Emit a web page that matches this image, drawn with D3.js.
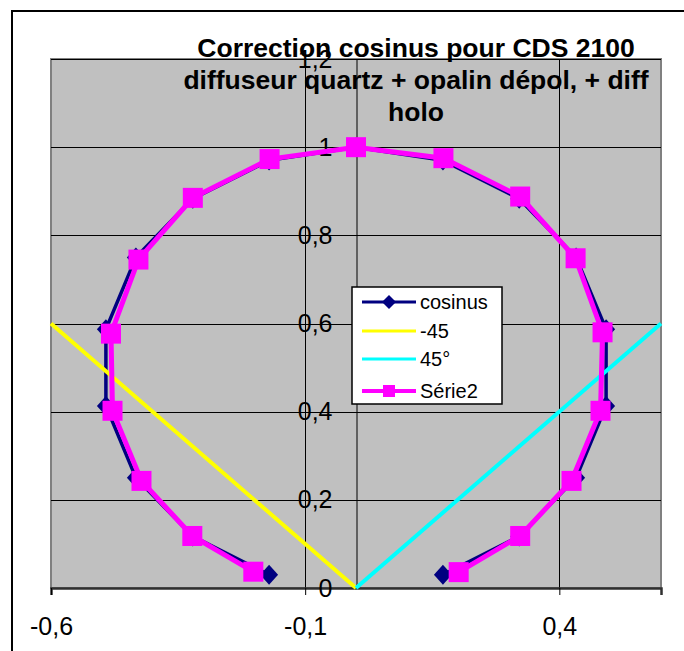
<!DOCTYPE html>
<html>
<head>
<meta charset="utf-8">
<script src="https://cdn.jsdelivr.net/npm/d3@7/dist/d3.min.js"></script>
<style>
  body { margin: 0; background: #fff; }
  svg text { font-family: Arial, "Liberation Sans", sans-serif; }
</style>
</head>
<body>
<svg id="chart" width="684" height="651"></svg>
<script>
// Chart data
const titleLines = ['Correction cosinus pour CDS 2100', 'diffuseur quartz + opalin dépol, + diff', 'holo'];

const cosinusX = [-0.171, -0.321, -0.433, -0.492, -0.492, -0.433, -0.321, -0.171, 0,
                  0.171, 0.321, 0.433, 0.492, 0.492, 0.433, 0.321, 0.171];
const cosinusY = [0.030, 0.117, 0.250, 0.413, 0.587, 0.750, 0.883, 0.970, 1.000,
                  0.970, 0.883, 0.750, 0.587, 0.413, 0.250, 0.117, 0.030];

const serie2X = [-0.202, -0.322, -0.422, -0.479, -0.482, -0.428, -0.321, -0.170, 0,
                 0.172, 0.323, 0.432, 0.485, 0.481, 0.424, 0.323, 0.202];
const serie2Y = [0.037, 0.118, 0.243, 0.402, 0.577, 0.745, 0.885, 0.973, 1.000,
                 0.975, 0.888, 0.748, 0.580, 0.402, 0.243, 0.118, 0.036];

const minus45X = [-0.6, 0];
const minus45Y = [0.6, 0];
const plus45X = [0, 0.6];
const plus45Y = [0, 0.6];

const xTicks = [-0.6, -0.1, 0.4];
const yTicks = [0, 0.2, 0.4, 0.6, 0.8, 1, 1.2];

const series = [
    { name: 'cosinus', xs: cosinusX, ys: cosinusY, color: '#000080', width: 3.5, marker: 'diamond' },
    { name: '-45', xs: minus45X, ys: minus45Y, color: '#FFFF00', width: 4, marker: null },
    { name: '45°', xs: plus45X, ys: plus45Y, color: '#00FFFF', width: 4, marker: null },
    { name: 'Série2', xs: serie2X, ys: serie2Y, color: '#FF00FF', width: 5, marker: 'square' }
];

const fmt = v => String(Math.round(v * 10) / 10).replace('.', ',');

const svg = d3.select('#chart');

// Outer chart border
svg.append('rect')
    .attr('x', 12).attr('y', 11)
    .attr('width', 720).attr('height', 700)
    .attr('fill', '#fff')
    .attr('stroke', '#000')
    .attr('stroke-width', 2);

const plot = { left: 51, right: 661, top: 59, bottom: 588 };

const x = d3.scaleLinear().domain([-0.6, 0.6]).range([plot.left, plot.right]);
const y = d3.scaleLinear().domain([0, 1.2]).range([plot.bottom, plot.top]);

// Plot area
svg.append('rect')
    .attr('x', plot.left).attr('y', plot.top)
    .attr('width', plot.right - plot.left)
    .attr('height', plot.bottom - plot.top)
    .attr('fill', '#C0C0C0')
    .attr('stroke', '#808080')
    .attr('stroke-width', 2);

// Horizontal gridlines
svg.append('g')
    .selectAll('line')
    .data(yTicks.filter(d => d > 0))
    .enter().append('line')
    .attr('x1', plot.left).attr('x2', plot.right)
    .attr('y1', d => Math.round(y(d)) + 0.5).attr('y2', d => Math.round(y(d)) + 0.5)
    .attr('stroke', '#000')
    .attr('stroke-width', 1);

// Vertical gridlines
svg.append('g')
    .selectAll('line')
    .data(xTicks.filter(d => d > -0.6))
    .enter().append('line')
    .attr('x1', d => Math.round(x(d)) + 0.5).attr('x2', d => Math.round(x(d)) + 0.5)
    .attr('y1', plot.top).attr('y2', plot.bottom)
    .attr('stroke', '#000')
    .attr('stroke-width', 1);

// X axis (bottom)
const xAxis = d3.axisBottom(x)
    .tickValues(xTicks)
    .tickSize(7)
    .tickFormat(fmt);

const gx = svg.append('g')
    .attr('transform', `translate(0,${plot.bottom})`)
    .call(xAxis);
gx.select('.domain').attr('stroke', '#303030').attr('stroke-width', 2.5);
gx.selectAll('.tick line').attr('stroke', '#000');
gx.selectAll('.tick text')
    .attr('fill', '#000')
    .attr('font-size', 25)
    .attr('dy', 0)
    .attr('y', 47);

// Y axis at x = 0
const yAxis = d3.axisLeft(y)
    .tickValues(yTicks)
    .tickSize(0)
    .tickPadding(24)
    .tickFormat(fmt);

const gy = svg.append('g')
    .attr('transform', `translate(${Math.round(x(0)) + 0.5},0)`)
    .call(yAxis);
gy.select('.domain').attr('stroke', '#000').attr('stroke-width', 1);
gy.selectAll('.tick text')
    .attr('fill', '#000')
    .attr('font-size', 25);

// Series lines
const line = d3.line().x(d => x(d[0])).y(d => y(d[1]));

series.forEach(s => {
    const pts = s.xs.map((v, i) => [v, s.ys[i]]);
    svg.append('path')
        .datum(pts)
        .attr('d', line)
        .attr('fill', 'none')
        .attr('stroke', s.color)
        .attr('stroke-width', s.width)
        .attr('stroke-linejoin', 'miter');

    if (s.marker === 'diamond') {
        svg.append('g').selectAll('path')
            .data(pts)
            .enter().append('path')
            .attr('d', d => {
                const cx = x(d[0]), cy = y(d[1]);
                return `M${cx},${cy - 10}L${cx + 9},${cy}L${cx},${cy + 10}L${cx - 9},${cy}Z`;
            })
            .attr('fill', s.color);
    } else if (s.marker === 'square') {
        svg.append('g').selectAll('rect')
            .data(pts)
            .enter().append('rect')
            .attr('x', d => x(d[0]) - 10)
            .attr('y', d => y(d[1]) - 10)
            .attr('width', 20)
            .attr('height', 20)
            .attr('fill', s.color);
    }
});

// Title
svg.append('text')
    .attr('text-anchor', 'middle')
    .attr('font-weight', 'bold')
    .attr('font-size', 26.5)
    .attr('fill', '#000')
    .selectAll('tspan')
    .data(titleLines)
    .enter().append('tspan')
    .attr('x', 416)
    .attr('y', (d, i) => 57 + i * 32)
    .text(d => d);

// Legend
const legend = svg.append('g').attr('transform', 'translate(352,287)');
legend.append('rect')
    .attr('width', 150).attr('height', 117)
    .attr('fill', '#fff')
    .attr('stroke', '#000')
    .attr('stroke-width', 1.5);

const rowY = [15, 44, 72, 104];
series.forEach((s, i) => {
    const row = legend.append('g').attr('transform', `translate(0,${rowY[i]})`);
    row.append('line')
        .attr('x1', 10).attr('x2', 64)
        .attr('stroke', s.color)
        .attr('stroke-width', s.width === 5 ? 4 : 3);
    if (s.marker === 'diamond') {
        row.append('path')
            .attr('d', 'M37,-7L44,0L37,7L30,0Z')
            .attr('fill', s.color);
    } else if (s.marker === 'square') {
        row.append('rect')
            .attr('x', 31).attr('y', -6)
            .attr('width', 12).attr('height', 12)
            .attr('fill', s.color);
    }
    row.append('text')
        .attr('x', 68)
        .attr('y', 7)
        .attr('font-size', 20)
        .attr('fill', '#000')
        .text(s.name);
});
</script>
</body>
</html>
